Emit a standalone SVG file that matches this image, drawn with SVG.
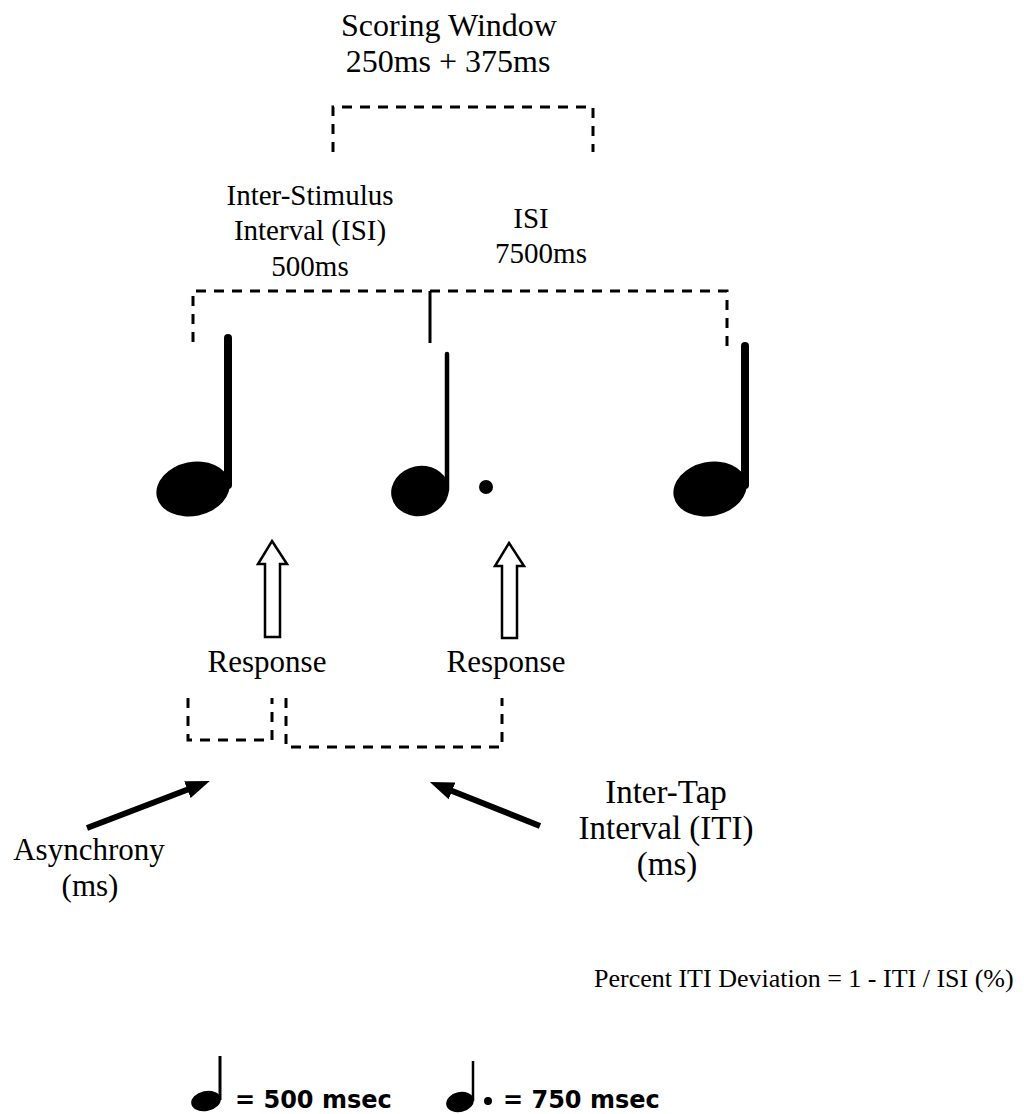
<svg xmlns="http://www.w3.org/2000/svg" width="1024" height="1114" viewBox="0 0 1024 1114">
<style>
.t{font-family:"Liberation Serif","Times New Roman",serif;font-size:29px;fill:#000;text-anchor:middle}
.h{font-family:"Liberation Serif","Times New Roman",serif;font-size:32px;fill:#000;text-anchor:middle}
.c{font-family:"Liberation Serif","Times New Roman",serif;font-size:31px;fill:#000;text-anchor:middle}
.w{font-family:"Liberation Serif","Times New Roman",serif;font-size:33px;fill:#000;text-anchor:middle}
.lg{font-family:"DejaVu Sans",sans-serif;font-weight:bold;font-size:24px;fill:#000}
.dash{fill:none;stroke:#000;stroke-width:3;stroke-dasharray:10 8}
.solid{fill:none;stroke:#000;stroke-width:3}
.blk{fill:#fff;stroke:#000;stroke-width:2.5;stroke-linejoin:miter}
.arr{stroke:#000;stroke-width:6;fill:none}
</style>
<defs>
<marker id="ah" markerWidth="4" markerHeight="3" refX="1" refY="1.5" orient="auto" markerUnits="strokeWidth">
<path d="M0,0 L4,1.5 L0,3 Z" fill="#000"/>
</marker>
</defs>
<rect width="1024" height="1114" fill="#fff"/>

<g id="scoring-window">
<text class="h" x="449" y="36">Scoring Window</text>
<text class="h" x="448" y="72">250ms + 375ms</text>
<path class="dash" d="M333,152 V107 H593 V152"/>
</g>

<g id="isi-label">
<text class="t" x="310" y="205">Inter-Stimulus</text>
<text class="t" x="310" y="240">Interval (ISI)</text>
<text class="t" x="310" y="276">500ms</text>
</g>
<g id="isi2-label">
<text class="t" x="531" y="228">ISI</text>
<text class="t" x="541" y="263">7500ms</text>
</g>

<g id="isi-bracket">
<path class="dash" d="M193,342 V291 H727 V346"/>
<line class="solid" x1="430" y1="291" x2="430" y2="343"/>
</g>

<g id="note1">
<ellipse cx="193" cy="489" rx="37" ry="27" transform="rotate(-12 193 489)" fill="#000"/>
<line x1="228" y1="338" x2="228" y2="485" stroke="#000" stroke-width="8" stroke-linecap="round"/>
</g>
<g id="note2">
<ellipse cx="420" cy="491" rx="29" ry="25" transform="rotate(-12 420 491)" fill="#000"/>
<line x1="447" y1="354" x2="447" y2="490" stroke="#000" stroke-width="4.5" stroke-linecap="round"/>
<circle cx="486" cy="487" r="7" fill="#000"/>
</g>
<g id="note3">
<ellipse cx="710" cy="489" rx="37" ry="27" transform="rotate(-12 710 489)" fill="#000"/>
<line x1="745" y1="346" x2="745" y2="485" stroke="#000" stroke-width="8" stroke-linecap="round"/>
</g>

<g id="response1">
<path class="blk" d="M272,541 L287,564 L280,564 L280,637 L265,637 L265,564 L258,564 Z"/>
<text class="c" x="267" y="672">Response</text>
</g>
<g id="response2">
<path class="blk" d="M509,543 L524,566 L517,566 L517,638 L502,638 L502,566 L495,566 Z"/>
<text class="c" x="506" y="672">Response</text>
</g>

<g id="response-brackets">
<path class="dash" d="M188,698 V740 H272 V698" stroke-dasharray="9 6"/>
<path class="dash" d="M286,698 V747 H502 V698" stroke-dasharray="9 6"/>
</g>

<g id="asynchrony">
<text class="c" x="89" y="860">Asynchrony</text>
<text class="c" x="90" y="896">(ms)</text>
</g>
<g id="iti">
<text class="w" x="666" y="803">Inter-Tap</text>
<text class="w" x="666" y="839">Interval (ITI)</text>
<text class="w" x="667" y="875">(ms)</text>
</g>

<g id="connectors">
<line class="arr" x1="87" y1="828" x2="193" y2="787.5" marker-end="url(#ah)"/>
<line class="arr" x1="540" y1="826" x2="446.5" y2="788.7" marker-end="url(#ah)"/>
</g>

<g id="formula">
<text x="594" y="987" style="font-family:'Liberation Serif','Times New Roman',serif;font-size:26px">Percent ITI Deviation = 1 - ITI / ISI (%)</text>
</g>

<g id="legend">
<ellipse cx="206" cy="1101" rx="15" ry="10" transform="rotate(-12 206 1101)" fill="#000"/>
<line x1="220" y1="1056" x2="220" y2="1100" stroke="#000" stroke-width="3"/>
<text class="lg" x="235" y="1108">= 500 msec</text>
<ellipse cx="460" cy="1102" rx="14" ry="10" transform="rotate(-12 460 1102)" fill="#000"/>
<line x1="473" y1="1061" x2="473" y2="1101" stroke="#000" stroke-width="2.5"/>
<circle cx="488" cy="1101" r="4" fill="#000"/>
<text class="lg" x="503" y="1108">= 750 msec</text>
</g>
</svg>
